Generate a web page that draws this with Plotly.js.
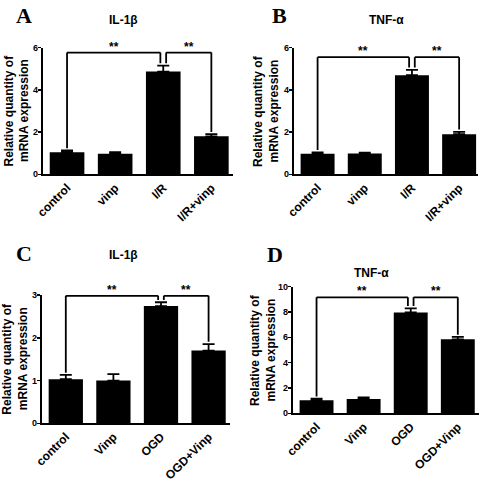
<!DOCTYPE html>
<html><head><meta charset="utf-8">
<script src="https://cdn.plot.ly/plotly-3.0.1.min.js"></script>
<style>html,body{margin:0;padding:0;background:#fff}#chart{width:492px;height:480px}</style>
</head><body><div id="chart"></div>
<script>
// ---- data ----
const catsInVivo = ['control', 'vinp', 'I/R', 'I/R+vinp'];
const catsInVitro = ['control', 'Vinp', 'OGD', 'OGD+Vinp'];
const il1bInVivo = [1.05, 0.97, 4.87, 1.80];
const il1bInVivoErr = [0.08, 0.08, 0.28, 0.10];
const tnfInVivo = [0.97, 0.98, 4.70, 1.90];
const tnfInVivoErr = [0.07, 0.05, 0.25, 0.11];
const il1bInVitro = [1.03, 1.00, 2.74, 1.70];
const il1bInVitroErr = [0.10, 0.15, 0.09, 0.15];
const tnfInVitro = [1.03, 1.13, 7.97, 5.84];
const tnfInVitroErr = [0.12, 0.12, 0.32, 0.19];
const yMax = [6, 6, 3, 10];
const yDtick = [2, 2, 1, 2];
const bracketLevel = [5.77, 5.55, 2.98, 9.16];
const panelTitles = ['IL-1β', 'TNF-α', 'IL-1β', 'TNF-α'];
const panelLetters = ['A', 'B', 'C', 'D'];
const sigPairs = [[0, 2], [2, 3]];
const sigLabel = '**';
const yTitleLines = ['Relative quantity of', 'mRNA expression'];

// ---- layout geometry (pixels in the 492x480 canvas) ----
const W = 492, H = 480;
const geom = [
  {x0: 43, x1: 233, yTop: 47.7, yBot: 174.3, xEnd: 3.45, tX: 124, tY: 20, lX: 24, lY: 15, ytX: [8.5, 24]},
  {x0: 294, x1: 478, yTop: 47.7, yBot: 174.3, xEnd: 3.4, tX: 386, tY: 20, lX: 279, lY: 15, ytX: [258, 273.5]},
  {x0: 42, x1: 230, yTop: 295, yBot: 423.3, xEnd: 3.45, tX: 124, tY: 255, lX: 24, lY: 253, ytX: [7.5, 23]},
  {x0: 293, x1: 479, yTop: 286.7, yBot: 413.3, xEnd: 3.45, tX: 371, tY: 273, lX: 275, lY: 254, ytX: [255, 270.5]}
];

const panelCats = [catsInVivo, catsInVivo, catsInVitro, catsInVitro];
const panelVals = [il1bInVivo, tnfInVivo, il1bInVitro, tnfInVitro];
const panelErrs = [il1bInVivoErr, tnfInVivoErr, il1bInVitroErr, tnfInVitroErr];

const FONT = 'Liberation Sans, Arial, sans-serif';
const traces = [];
const layout = {
  width: W, height: H,
  margin: {l: 0, r: 0, t: 0, b: 0},
  paper_bgcolor: '#fff', plot_bgcolor: '#fff',
  showlegend: false,
  bargap: 0.28,
  shapes: [], annotations: []
};

for (let i = 0; i < 4; i++) {
  const g = geom[i];
  const sfx = i === 0 ? '' : String(i + 1);
  const xa = 'x' + sfx, ya = 'y' + sfx;
  const idx = panelCats[i].map((_, k) => k);
  traces.push({
    type: 'bar', x: idx, y: panelVals[i], xaxis: xa, yaxis: ya,
    marker: {color: '#000', line: {width: 0}},
    error_y: {type: 'data', array: panelErrs[i], arrayminus: panelErrs[i].map(() => 0), color: '#000', thickness: 1.8, width: 6},
    hoverinfo: 'skip'
  });
  layout['xaxis' + sfx] = {
    domain: [g.x0 / W, g.x1 / W], anchor: ya,
    range: [-0.5, g.xEnd], type: 'linear',
    tickmode: 'array', tickvals: idx, ticktext: panelCats[i],
    tickangle: -45, ticks: '', showgrid: false, zeroline: false,
    showline: true, linecolor: '#000', linewidth: 1.8,
    tickfont: {family: FONT, size: 12, color: '#000', weight: 'bold'}
  };
  layout['yaxis' + sfx] = {
    domain: [1 - g.yBot / H, 1 - g.yTop / H], anchor: xa,
    range: [0, yMax[i]], dtick: yDtick[i], tick0: 0,
    ticks: 'outside', ticklen: 3.5, tickwidth: 1.5, tickcolor: '#000',
    ticklabelstandoff: -2,
    showgrid: false, zeroline: false,
    showline: true, linecolor: '#000', linewidth: 1.8,
    tickfont: {family: FONT, size: 9, color: '#000', weight: 'bold'}
  };

  // significance brackets
  const gap = 0.06;
  sigPairs.forEach(p => {
    const a = p[0], b = p[1];
    const xa0 = a + (sigPairs.some(q => q[1] === a) ? gap : 0);
    const xb0 = b - (sigPairs.some(q => q[0] === b) ? gap : 0);
    const lvl = bracketLevel[i];
    const pad = yMax[i] * 0.018;
    const ya0 = panelVals[i][a] + panelErrs[i][a] + pad;
    const yb0 = panelVals[i][b] + panelErrs[i][b] + pad;
    const ln = {color: '#000', width: 1.8};
    layout.shapes.push({type: 'line', xref: xa, yref: ya, x0: xa0, x1: xa0, y0: ya0, y1: lvl, line: ln});
    layout.shapes.push({type: 'line', xref: xa, yref: ya, x0: xa0, x1: xb0, y0: lvl, y1: lvl, line: ln});
    layout.shapes.push({type: 'line', xref: xa, yref: ya, x0: xb0, x1: xb0, y0: yb0, y1: lvl, line: ln});
    layout.annotations.push({
      xref: xa, yref: ya, x: (xa0 + xb0) / 2, y: lvl, yanchor: 'bottom', yshift: -3,
      text: sigLabel, showarrow: false,
      font: {family: FONT, size: 12, color: '#000', weight: 'bold'}
    });
  });

  // panel title
  layout.annotations.push({
    xref: 'paper', yref: 'paper', x: g.tX / W, y: 1 - g.tY / H,
    xanchor: 'center', yanchor: 'middle', text: panelTitles[i], showarrow: false,
    font: {family: FONT, size: 12, color: '#000', weight: 'bold'}
  });
  // panel letter
  layout.annotations.push({
    xref: 'paper', yref: 'paper', x: g.lX / W, y: 1 - g.lY / H,
    xanchor: 'center', yanchor: 'middle', text: panelLetters[i], showarrow: false,
    font: {family: 'Liberation Serif, Times New Roman, serif', size: 22, color: '#000', weight: 'bold'}
  });
  // y-axis title (two lines)
  yTitleLines.forEach((t, k) => {
    layout.annotations.push({
      xref: 'paper', yref: 'paper', x: g.ytX[k] / W, y: 1 - (g.yTop + g.yBot) / 2 / H,
      xanchor: 'center', yanchor: 'middle', textangle: -90, text: t, showarrow: false,
      font: {family: FONT, size: 12, color: '#000', weight: 'bold'}
    });
  });
}

Plotly.newPlot('chart', traces, layout, {staticPlot: true, displayModeBar: false});
</script>
</body></html>
